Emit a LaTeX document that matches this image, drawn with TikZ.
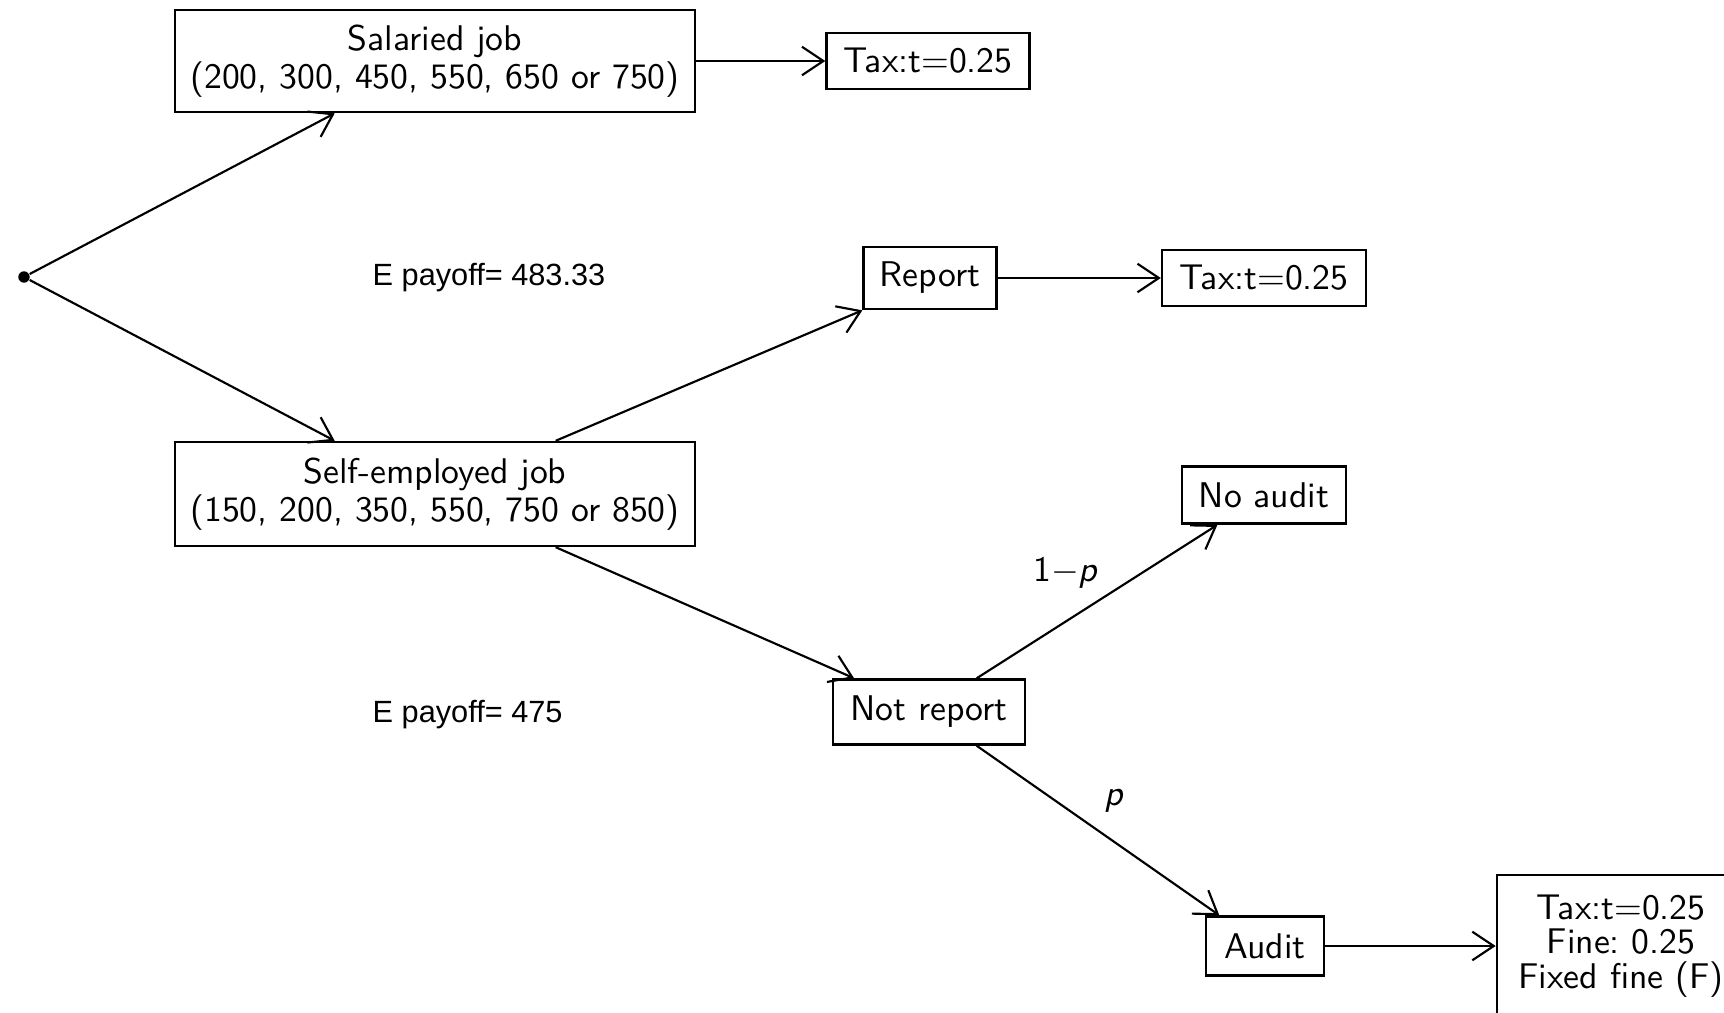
\documentclass[tikz,border=0pt]{standalone}
\usepackage{fontspec}
\newfontfamily\arialfont{Liberation Sans}
\usetikzlibrary{arrows.meta,calc}
\begin{document}
\begin{tikzpicture}[x=0.28pt,y=-0.28pt,
  box/.style={draw,line width=0.7pt,font=\sffamily,align=center,inner sep=0pt},
  arr/.style={line width=0.6pt,-{Straight Barb[length=6pt,width=8pt]}},
  lab/.style={font=\sffamily},
  epay/.style={font=\arialfont\fontsize{8.6}{10}\selectfont,anchor=west,inner sep=0pt}]
\useasboundingbox (0,0) rectangle (1724,1012);
\clip (0,0) rectangle (1724,1012);
\fill[white] (0,0) rectangle (1724,1012);

\node[circle,fill,inner sep=0pt,minimum size=3.2pt] (root) at (24,277) {};
\node[box,minimum width=145.6pt,minimum height=28.6pt] (sal) at (435,61) {Salaried job\\[-1.5pt](200, 300, 450, 550, 650 or 750)};
\node[box,minimum width=56.8pt,minimum height=15.7pt] (tax1) at (928,61) {Tax:t=0.25};
\node[box,minimum width=37.2pt,minimum height=17.4pt] (rep) at (930,278) {Report};
\node[box,minimum width=57.1pt,minimum height=15.7pt] (tax2) at (1264,278) {Tax:t=0.25};
\node[box,minimum width=145.6pt,minimum height=29.1pt] (self) at (435,494) {Self-employed job\\[-1.5pt](150, 200, 350, 550, 750 or 850)};
\node[box,minimum width=45.9pt,minimum height=16pt] (noa) at (1264,495) {No audit};
\node[box,minimum width=53.8pt,minimum height=18.2pt] (nrep) at (929,712) {Not report};
\node[box,minimum width=33pt,minimum height=16.5pt] (aud) at (1265,946) {Audit};
\node[box,minimum width=69.5pt,minimum height=39.8pt] (fin) at (1621,946) {Tax:t=0.25\\[-2.3pt]Fine:\ 0.25\\[-2.3pt]Fixed fine (F)};

\node[epay] (ep1) at (372,278) {E payoff= 483.33};
\node[epay] (ep2) at (372,715) {E payoff= 475};
\node[lab] (l1) at (1066,573) {1$-$\textsl{p}};
\node[lab] (l2) at (1114,801) {\textsl{p}};

\draw[arr] (root) -- ($(sal.south west)!0.308!(sal.south east)$);
\draw[arr] (root) -- ($(self.north west)!0.308!(self.north east)$);
\draw[arr] ($(self.north west)!0.731!(self.north east)$) -- (rep.south west);
\draw[arr] ($(self.south west)!0.731!(self.south east)$) -- ($(nrep.north west)!0.115!(nrep.north east)$);
\draw[arr] ($(nrep.north west)!0.745!(nrep.north east)$) -- ($(noa.south west)!0.22!(noa.south east)$);
\draw[arr] ($(nrep.south west)!0.745!(nrep.south east)$) -- ($(aud.north west)!0.12!(aud.north east)$);
\draw[arr] (sal.east) -- (tax1.west);
\draw[arr] (rep.east) -- (tax2.west);
\draw[arr] (aud.east) -- (fin.west);
\end{tikzpicture}
\end{document}
